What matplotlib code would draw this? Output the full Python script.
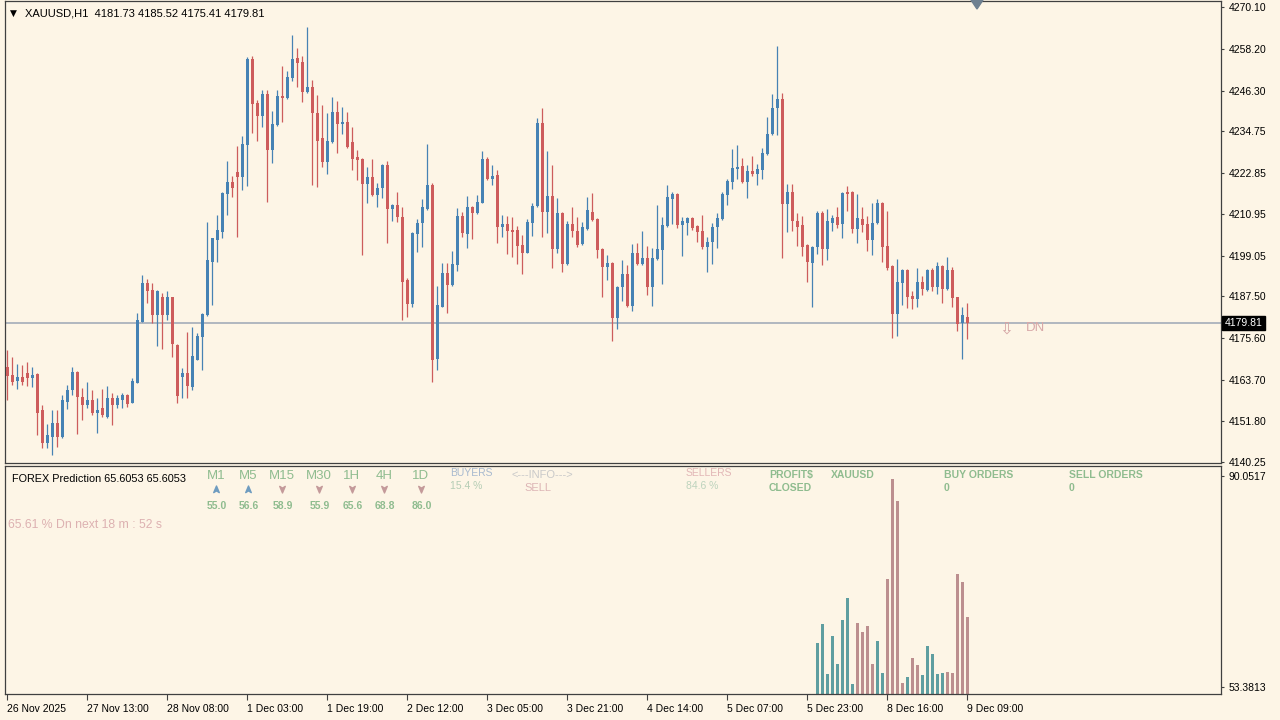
import matplotlib
matplotlib.use("Agg")
import matplotlib.pyplot as plt
from matplotlib.path import Path
from matplotlib.patches import Polygon
from matplotlib.transforms import blended_transform_factory

plt.rcParams['font.family'] = ['Liberation Sans', 'DejaVu Sans']

# ---- data (XAUUSD H1) ----
symbol = "XAUUSD,H1"
opens = [
    4167.4, 4165.0, 4163.4, 4164.4, 4165.5, 4164.1, 4165.2, 4154.9, 4145.7, 4147.4,
    4151.4, 4147.2, 4157.4, 4160.6, 4166.0, 4158.8, 4156.5, 4157.9, 4154.1, 4155.5,
    4153.1, 4158.4, 4156.5, 4157.9, 4159.3, 4157.1, 4162.8, 4180.3, 4191.4, 4189.3,
    4182.2, 4187.4, 4182.2, 4187.2, 4173.6, 4164.4, 4165.5, 4161.7, 4169.3, 4175.8,
    4182.2, 4197.4, 4203.6, 4206.0, 4216.8, 4220.3, 4223.1, 4221.7, 4230.8, 4255.2,
    4242.7, 4238.9, 4245.3, 4229.3, 4236.5, 4244.8, 4244.1, 4249.8, 4255.5, 4254.6,
    4246.0, 4247.4, 4240.0, 4232.7, 4226.0, 4231.7, 4240.3, 4236.8, 4237.4, 4231.7,
    4227.2, 4226.7, 4219.6, 4221.5, 4216.5, 4218.4, 4225.0, 4212.4, 4213.6, 4210.1,
    4192.2, 4185.3, 4205.3, 4208.6, 4212.4, 4219.3, 4169.5, 4184.6, 4194.1, 4190.8,
    4196.5, 4210.5, 4205.3, 4212.9, 4211.2, 4214.3, 4226.7, 4220.9, 4222.2, 4207.4,
    4208.2, 4206.5, 4206.5, 4202.2, 4200.0, 4208.6, 4213.3, 4237.1, 4211.7, 4216.2,
    4200.9, 4211.4, 4196.8, 4208.2, 4206.3, 4202.5, 4206.7, 4211.7, 4209.5, 4200.9,
    4195.8, 4197.1, 4181.2, 4190.1, 4193.9, 4184.8, 4200.0, 4196.8, 4198.4, 4190.3,
    4198.1, 4200.8, 4207.6, 4215.2, 4216.8, 4207.9, 4208.6, 4209.8, 4207.6, 4206.3,
    4201.7, 4202.9, 4207.2, 4209.5, 4216.5, 4220.3, 4223.8, 4224.8, 4220.3, 4223.4,
    4222.5, 4223.6, 4228.2, 4233.9, 4241.2, 4243.8, 4213.9, 4217.4, 4208.9, 4207.9,
    4202.2, 4197.1, 4201.5, 4211.4, 4200.9, 4208.6, 4210.1, 4208.2, 4217.4, 4217.4,
    4206.7, 4209.5, 4208.2, 4203.6, 4208.4, 4214.3, 4201.9, 4196.2, 4182.5, 4191.4,
    4195.0, 4187.6, 4186.7, 4191.7, 4189.3, 4195.0, 4190.1, 4196.2, 4189.5, 4195.0,
    4187.2, 4179.8, 4181.73,
]
highs = [
    4172.2, 4170.3, 4168.2, 4167.9, 4168.6, 4167.4, 4165.5, 4156.5, 4151.0, 4154.9,
    4154.9, 4159.3, 4162.2, 4167.2, 4166.2, 4161.2, 4163.1, 4160.8, 4158.4, 4160.9,
    4161.9, 4159.8, 4159.3, 4159.8, 4159.6, 4164.1, 4182.7, 4193.6, 4192.4, 4191.2,
    4189.2, 4188.4, 4188.9, 4187.4, 4173.8, 4166.9, 4177.4, 4178.8, 4177.1, 4182.7,
    4208.8, 4204.3, 4210.8, 4217.3, 4226.3, 4221.9, 4230.5, 4233.3, 4255.8, 4256.2,
    4243.6, 4246.5, 4246.5, 4240.6, 4246.5, 4253.3, 4252.0, 4262.2, 4258.4, 4256.2,
    4264.4, 4249.3, 4245.0, 4242.2, 4239.8, 4244.4, 4243.4, 4241.5, 4240.3, 4235.8,
    4229.3, 4227.0, 4224.6, 4226.7, 4220.0, 4225.3, 4226.3, 4213.9, 4217.4, 4213.1,
    4192.7, 4206.0, 4209.5, 4215.2, 4231.0, 4220.0, 4190.5, 4196.9, 4196.9, 4200.6,
    4212.7, 4211.7, 4216.2, 4213.2, 4216.5, 4228.9, 4227.2, 4225.0, 4223.6, 4210.8,
    4210.5, 4210.1, 4207.6, 4205.0, 4209.5, 4214.3, 4238.4, 4241.2, 4229.1, 4225.0,
    4215.5, 4211.7, 4209.1, 4212.9, 4210.1, 4208.8, 4215.8, 4216.9, 4209.8, 4201.2,
    4199.3, 4197.4, 4190.5, 4197.9, 4196.5, 4202.5, 4202.7, 4206.3, 4201.9, 4201.2,
    4213.6, 4210.3, 4219.3, 4217.4, 4217.1, 4210.3, 4210.3, 4210.1, 4207.9, 4210.8,
    4204.6, 4208.4, 4211.4, 4217.4, 4221.0, 4229.5, 4230.8, 4227.0, 4225.0, 4227.6,
    4225.3, 4229.8, 4238.7, 4245.3, 4259.1, 4245.5, 4219.6, 4219.6, 4211.2, 4210.5,
    4202.5, 4201.9, 4212.0, 4212.0, 4212.4, 4210.8, 4212.9, 4217.4, 4219.0, 4217.6,
    4216.8, 4212.9, 4210.5, 4214.3, 4215.2, 4214.6, 4212.0, 4196.5, 4198.1, 4195.2,
    4195.3, 4188.9, 4195.5, 4193.3, 4195.2, 4195.5, 4197.4, 4196.4, 4198.7, 4195.8,
    4187.4, 4184.6, 4185.52,
]
lows = [
    4157.9, 4162.2, 4160.9, 4162.2, 4161.9, 4161.7, 4147.9, 4144.1, 4144.1, 4142.2,
    4144.4, 4146.9, 4155.2, 4159.3, 4148.2, 4152.2, 4155.5, 4153.6, 4148.4, 4153.1,
    4152.7, 4150.8, 4155.5, 4155.5, 4156.0, 4156.9, 4162.7, 4180.2, 4185.5, 4179.8,
    4173.3, 4172.4, 4180.8, 4170.3, 4156.9, 4158.4, 4158.4, 4160.8, 4169.2, 4166.5,
    4181.9, 4185.0, 4197.4, 4204.1, 4210.8, 4216.0, 4204.4, 4217.9, 4219.0, 4234.1,
    4232.0, 4235.8, 4214.6, 4225.7, 4236.3, 4237.4, 4244.0, 4248.9, 4247.4, 4243.1,
    4245.7, 4219.3, 4218.8, 4224.6, 4222.5, 4231.4, 4228.6, 4233.9, 4229.8, 4223.6,
    4220.8, 4199.3, 4214.1, 4216.2, 4212.9, 4215.5, 4202.8, 4209.1, 4208.8, 4180.7,
    4181.7, 4184.4, 4200.3, 4201.5, 4212.2, 4163.1, 4166.5, 4184.4, 4182.8, 4190.6,
    4194.8, 4204.6, 4201.2, 4203.8, 4211.0, 4214.1, 4220.8, 4219.3, 4202.7, 4204.4,
    4199.6, 4198.8, 4196.8, 4193.9, 4199.8, 4204.8, 4213.1, 4204.6, 4205.7, 4195.5,
    4200.0, 4194.6, 4196.5, 4204.4, 4201.7, 4202.3, 4206.5, 4209.0, 4198.4, 4187.2,
    4192.2, 4174.8, 4178.1, 4186.3, 4184.5, 4183.4, 4196.5, 4196.6, 4187.9, 4184.8,
    4197.9, 4191.0, 4207.4, 4208.2, 4206.9, 4199.0, 4205.0, 4206.5, 4202.9, 4200.9,
    4194.6, 4196.8, 4201.2, 4209.3, 4213.6, 4218.1, 4221.0, 4220.0, 4215.5, 4221.9,
    4219.3, 4221.0, 4227.9, 4233.6, 4233.6, 4198.4, 4206.0, 4206.3, 4201.9, 4199.0,
    4191.7, 4184.4, 4199.6, 4196.5, 4197.9, 4206.3, 4206.9, 4204.1, 4212.0, 4205.7,
    4202.7, 4206.0, 4200.6, 4199.3, 4208.2, 4197.4, 4195.0, 4175.5, 4176.2, 4185.0,
    4184.1, 4183.8, 4184.4, 4187.9, 4188.9, 4189.1, 4188.2, 4185.5, 4189.3, 4184.4,
    4177.7, 4169.5, 4175.41,
]
closes = [
    4164.6, 4163.1, 4164.4, 4163.1, 4164.1, 4165.0, 4154.3, 4145.5, 4147.9, 4151.4,
    4147.2, 4157.9, 4160.8, 4166.0, 4158.7, 4156.5, 4157.9, 4154.1, 4155.0, 4153.6,
    4158.4, 4156.5, 4158.4, 4159.3, 4156.8, 4163.4, 4180.8, 4191.4, 4189.1, 4182.2,
    4188.9, 4182.2, 4187.2, 4173.9, 4159.0, 4165.5, 4161.9, 4170.5, 4176.2, 4182.5,
    4197.9, 4204.1, 4206.5, 4217.1, 4220.3, 4218.4, 4221.7, 4231.0, 4255.2, 4242.5,
    4238.9, 4245.3, 4229.3, 4236.8, 4244.8, 4244.1, 4250.3, 4255.2, 4254.3, 4246.0,
    4247.4, 4240.0, 4232.0, 4226.0, 4232.0, 4240.3, 4236.8, 4237.4, 4230.3, 4226.7,
    4226.5, 4219.6, 4221.5, 4216.5, 4218.4, 4225.0, 4212.4, 4213.6, 4210.1, 4191.7,
    4185.3, 4205.7, 4208.6, 4212.9, 4219.3, 4169.3, 4185.0, 4194.3, 4190.8, 4196.8,
    4210.5, 4205.5, 4212.9, 4211.4, 4214.6, 4226.7, 4220.9, 4221.9, 4207.4, 4208.2,
    4206.3, 4206.0, 4201.9, 4200.0, 4208.8, 4213.3, 4237.1, 4211.7, 4216.2, 4200.9,
    4211.4, 4196.8, 4208.2, 4206.3, 4202.2, 4207.2, 4212.2, 4209.3, 4200.8, 4195.8,
    4197.1, 4181.2, 4190.3, 4193.9, 4184.8, 4200.0, 4196.8, 4198.4, 4190.3, 4198.4,
    4200.9, 4207.9, 4215.8, 4216.8, 4207.9, 4208.9, 4209.8, 4206.9, 4206.0, 4201.7,
    4203.1, 4207.4, 4209.8, 4216.8, 4220.6, 4224.1, 4224.6, 4220.3, 4223.4, 4222.5,
    4223.8, 4228.4, 4233.9, 4241.2, 4243.8, 4213.9, 4217.4, 4208.9, 4207.4, 4201.7,
    4197.4, 4201.7, 4211.4, 4200.9, 4208.9, 4209.8, 4207.9, 4217.1, 4216.8, 4206.7,
    4209.8, 4207.9, 4203.6, 4208.4, 4214.3, 4201.7, 4195.5, 4182.5, 4191.7, 4195.0,
    4187.2, 4186.7, 4191.7, 4189.5, 4195.0, 4190.1, 4196.2, 4189.5, 4195.0, 4186.9,
    4179.6, 4182.2, 4179.81,
]

time_labels = ["26 Nov 2025", "27 Nov 13:00", "28 Nov 08:00", "1 Dec 03:00",
               "1 Dec 19:00", "2 Dec 12:00", "3 Dec 05:00", "3 Dec 21:00",
               "4 Dec 14:00", "5 Dec 07:00", "5 Dec 23:00", "8 Dec 16:00",
               "9 Dec 09:00"]
time_label_bars = [0, 16, 32, 48, 64, 80, 96, 112, 128, 144, 160, 176, 192]
price_ticks = [4270.10, 4258.20, 4246.30, 4234.75, 4222.85, 4210.95, 4199.05,
               4187.50, 4175.60, 4163.70, 4151.80, 4140.25]
last_price = 4179.81

# FOREX Prediction histogram (last 31 bars), b = buyers, s = sellers
hist_start = 162
hist_vals = [61.1, 64.4, 55.7, 62.2, 57.4, 65.0, 68.9, 54.0, 64.6, 62.9,
             64.0, 57.4, 61.5, 55.9, 72.2, 89.5, 85.8, 54.2, 55.2, 58.5,
             57.2, 55.5, 60.5, 59.2, 55.7, 55.9, 56.1, 55.9, 73.0, 71.7, 65.6]
hist_side = "bbbbbbbbssssbbssssbssbbbbbsssss"
ind_scale = [53.3813, 90.0517]
pred_value = 65.6053

tf_names = ["M1", "M5", "M15", "M30", "1H", "4H", "1D"]
tf_dirs = ["up", "up", "dn", "dn", "dn", "dn", "dn"]
tf_vals = [55.0, 56.6, 58.9, 55.9, 65.6, 68.8, 86.0]
buyers_pct = 15.4
sellers_pct = 84.6

# ---- colours ----
BG = "#FDF5E6"
UP = "#4682B4"
DN = "#CD5C5C"
GREEN = "#8FBC8F"
FRAME = "#404040"

W, H = 1280, 720
fig = plt.figure(figsize=(12.8, 7.2), dpi=100, facecolor=BG)


def px_axes(l, t, r, b):
    return fig.add_axes([l / W, 1 - b / H, (r - l) / W, (b - t) / H])


def ftext(x, y, s, **kw):
    kw.setdefault("va", "center")
    fig.text(x / W, 1 - y / H, s, **kw)


ax = px_axes(5, 1, 1221, 463)
axi = px_axes(5, 466, 1221, 694)
for a in (ax, axi):
    a.set_facecolor(BG)
    a.set_xlim(-0.46, 242.74)
    for sp in a.spines.values():
        sp.set_color(FRAME)
        sp.set_linewidth(0.9)

# ---- candles ----
xs = list(range(len(opens)))
cols = [UP if c >= o else DN for o, c in zip(opens, closes)]
ax.axhline(last_price, color="#AAB2BC", lw=1.3, zorder=1)
ax.vlines(xs, lows, highs, colors=cols, lw=0.9, zorder=2)
bottoms = [min(o, c) for o, c in zip(opens, closes)]
heights = [max(abs(c - o), 0.35) for o, c in zip(opens, closes)]
ax.bar(xs, heights, bottom=bottoms, width=0.7, color=cols, linewidth=0, zorder=3)
ax.set_ylim(4139.88, 4271.90)

ax.yaxis.tick_right()
ax.set_yticks(price_ticks)
ax.set_yticklabels([f"{p:.2f}" for p in price_ticks])
ax.tick_params(axis="y", length=2.5, width=0.8, color=FRAME, labelsize=7.5,
               pad=3, labelcolor="black")
ax.set_xticks([])

tr = blended_transform_factory(ax.transAxes, ax.transData)
ax.text(1.003, last_price, f"{last_price:.2f}", transform=tr, color="white",
        fontsize=7.5, va="center", ha="left",
        bbox=dict(facecolor="black", edgecolor="black", pad=1.6))

# ---- indicator window ----
base = 52.22
axi.set_ylim(base, 91.79)
hx = [hist_start + k for k in range(len(hist_vals))]
hcols = ["#5F9EA0" if s == "b" else "#BC8F8F" for s in hist_side]
axi.bar(hx, [v - base for v in hist_vals], bottom=base, width=0.66,
        color=hcols, linewidth=0)
axi.yaxis.tick_right()
axi.set_yticks(ind_scale)
axi.set_yticklabels([f"{v:.4f}" for v in ind_scale])
axi.tick_params(axis="y", length=2.5, width=0.8, color=FRAME, labelsize=7.5, pad=3)
axi.set_xticks(time_label_bars)
axi.set_xticklabels(time_labels, ha="left")
axi.tick_params(axis="x", length=4.5, width=0.8, color=FRAME, labelsize=7.5, pad=3)

# ---- header and labels ----
ftext(13, 13, "\u25BC", fontsize=6.5, family="DejaVu Sans", ha="center")
ftext(25, 14, f"{symbol}  {opens[-1]:.2f} {highs[-1]:.2f} {lows[-1]:.2f} {closes[-1]:.2f}",
      fontsize=8)
fig.patches.append(Polygon([[971 / W, 1], [983 / W, 1], [977 / W, 1 - 9 / H]],
                           closed=True, transform=fig.transFigure,
                           color="#6E8090"))
ftext(1006, 329, "\u21E9", fontsize=12, family="DejaVu Sans", color="#D4A3A3",
      ha="center")
ftext(1026, 328, "DN", fontsize=9.5, color="#D8A8A8")

ftext(12, 479, f"FOREX Prediction {pred_value:.4f} {pred_value:.4f}", fontsize=7.8)
ftext(8, 525, f"{pred_value:.2f} % Dn next 18 m : 52 s", fontsize=8.8, color="#DDB1B1")

up_arrow = Path([(0, 1), (0.8, -0.9), (0, -0.4), (-0.8, -0.9), (0, 1)],
                [Path.MOVETO, Path.LINETO, Path.LINETO, Path.LINETO, Path.CLOSEPOLY])
dn_arrow = Path([(0, -1), (0.8, 0.9), (0, 0.4), (-0.8, 0.9), (0, -1)],
                [Path.MOVETO, Path.LINETO, Path.LINETO, Path.LINETO, Path.CLOSEPOLY])
name_x = [216, 248, 282, 319, 352, 384, 421]
for k, (nm, d, v) in enumerate(zip(tf_names, tf_dirs, tf_vals)):
    x0 = name_x[k]
    ftext(x0, 476, nm, fontsize=9.5, color=GREEN, ha="center")
    mk = up_arrow if d == "up" else dn_arrow
    mc = "#6F9CC0" if d == "up" else "#C49A9A"
    axi.plot([x0 / W], [1 - 489 / H], marker=mk, ms=5, color=mc,
             transform=fig.transFigure, clip_on=False, lw=0)
    ftext(x0 + 1, 506, f"{v:.1f}", fontsize=7.5, color=GREEN, ha="center",
          weight="bold")

ftext(450, 473, "BUYERS", fontsize=7.5, color="#A7B9CF")
ftext(450, 486, f"{buyers_pct:.1f} %", fontsize=7.5, color="#B5CDB5")
ftext(512, 475, "<---INFO--->", fontsize=8, color="#C9C9C9")
ftext(524, 488, "SELL", fontsize=8, color="#DDB5B5")
ftext(686, 473, "SELLERS", fontsize=7.5, color="#E2B6B6")
ftext(686, 486, f"{sellers_pct:.1f} %", fontsize=7.5, color="#BDD3BD")

bold = dict(fontsize=7.5, color=GREEN, weight="bold")
ftext(769, 475, "PROFIT$", **bold)
ftext(769, 488, "CLOSED", **bold)
ftext(831, 475, "XAUUSD", **bold)
ftext(944, 475, "BUY ORDERS", **bold)
ftext(944, 488, "0", **bold)
ftext(1069, 475, "SELL ORDERS", **bold)
ftext(1069, 488, "0", **bold)

fig.savefig("out.png", dpi=100, facecolor=BG)
